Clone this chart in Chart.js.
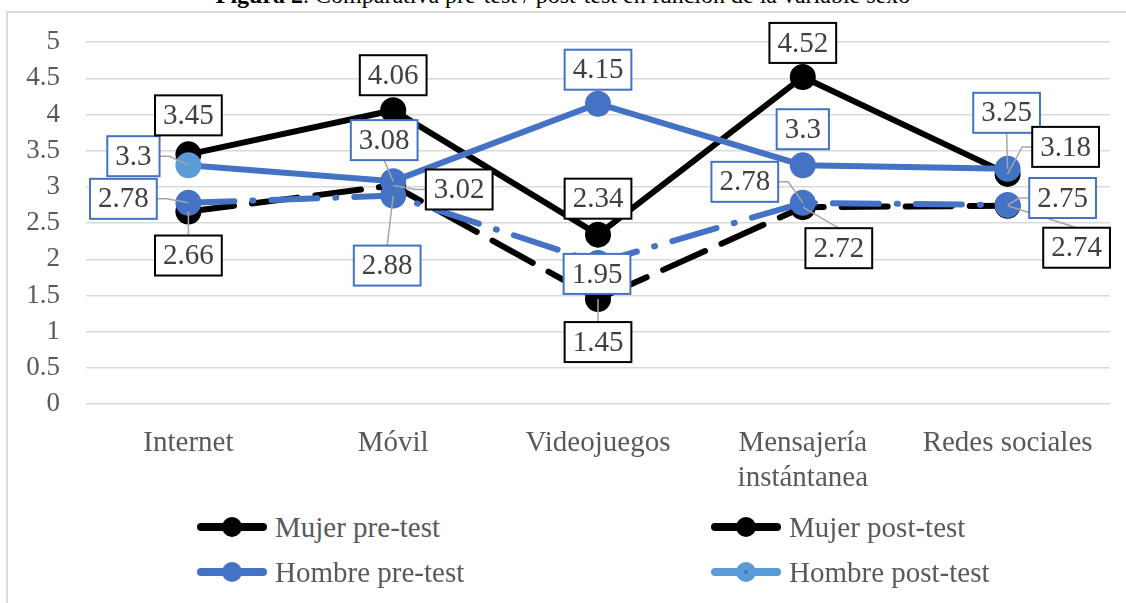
<!DOCTYPE html>
<html lang="es">

<head>
    <meta charset="UTF-8">
    <title>Figura 2</title>
    <script src="https://cdn.jsdelivr.net/npm/chart.js@4.4.0/dist/chart.umd.min.js"></script>
    <style>
        body {
            margin: 0;
            background: #fff;
            font-family: "Liberation Serif", serif;
            color: #595959;
        }

        .page {
            position: relative;
            width: 1126px;
            height: 603px;
            overflow: hidden;
        }

        .title {
            position: absolute;
            top: -17px;
            left: 0;
            width: 1126px;
            text-align: center;
            font-size: 24px;
            line-height: 24px;
            color: #000;
        }

        .frame {
            position: absolute;
            left: 6px;
            top: 11px;
            width: 1130px;
            height: 620px;
            border: 1px solid #d9d9d9;
            border-width: 2px 0 0 2px;
        }

        .wrap {
            position: absolute;
            left: 0;
            top: 0;
            width: 1126px;
            height: 500px;
        }

        #legend {
            position: absolute;
            left: 195px;
            top: 510px;
            display: grid;
            grid-template-columns: 514px 320px;
            row-gap: 11px;
            font-size: 29px;
        }

        #legend div {
            display: flex;
            align-items: center;
            height: 34px;
            white-space: nowrap;
        }

        #legend canvas {
            margin-right: 6px;
        }
    </style>
</head>

<body>
    <div class="page">
        <div class="frame"></div>
        <div class="title"><b>Figura 2</b>. Comparativa pre-test / post-test en función de la variable sexo</div>
        <div class="wrap"><canvas id="myChart"></canvas></div>
        <div id="legend"></div>
    </div>
    <script>
        // datos
        var categorias = ['Internet', 'Móvil', 'Videojuegos', ['Mensajería', 'instántanea'], 'Redes sociales']
        var mujerPre = [2.66, 3.02, 1.45, 2.72, 2.74]
        var mujerPost = [3.45, 4.06, 2.34, 4.52, 3.18]
        var hombrePre = [2.78, 2.88, 1.95, 2.78, 2.75]
        var hombrePost = [3.3, 3.08, 4.15, 3.3, 3.25]
        var yTicks = [0, 0.5, 1, 1.5, 2, 2.5, 3, 3.5, 4, 4.5, 5]

        // desplazamiento de las etiquetas (px) y si llevan linea guia
        var offMujerPre = [[0, 44], [66, 4], [0, 43], [36, 41], [69, 42]]
        var offMujerPost = [[0, -39], [0, -35], [0, -36], [0, -34], [58, -27]]
        var offHombrePre = [[-65, -4], [-6, 70], [-1, 11], [-58, -21], [55, -7]]
        var offHombrePost = [[-55, -9], [-9, -41], [0, -34], [0, -36], [-1, -56]]
        var guiaMujerPre = [1, 1, 1, 1, 1]
        var guiaMujerPost = [0, 0, 0, 0, 1]
        var guiaHombrePre = [1, 1, 0, 1, 1]
        var guiaHombrePost = [1, 1, 0, 0, 1]

        var negro = '#000000'
        var azul = '#4472C4'
        var azulClaro = '#5B9BD5'
        var gris = '#595959'

        var etiquetas = {
            id: 'etiquetas',
            afterDatasetsDraw: function (chart) {
                var ctx = chart.ctx
                ctx.save()
                ctx.font = '29px "Liberation Serif"'
                ctx.textAlign = 'center'
                ctx.textBaseline = 'middle'
                var cajas = []
                chart.data.datasets.forEach(function (ds, i) {
                    var meta = chart.getDatasetMeta(i)
                    ds.data.forEach(function (v, j) {
                        var p = meta.data[j]
                        var txt = String(v)
                        var w = ctx.measureText(txt).width + 16
                        var h = 40
                        var cx = p.x + ds.offsets[j][0]
                        var cy = p.y + ds.offsets[j][1]
                        cajas.push({ x: p.x, y: p.y, cx: cx, cy: cy, w: w, h: h, txt: txt, col: ds.boxColor, guia: ds.guias[j] })
                    })
                })
                // lineas guia
                ctx.strokeStyle = '#a6a6a6'
                ctx.lineWidth = 1.5
                cajas.forEach(function (c) {
                    if (!c.guia) return
                    var dx = c.x - c.cx, dy = c.y - c.cy
                    var ax, ay
                    if (Math.abs(dx) / c.w > Math.abs(dy) / c.h) {
                        ax = c.cx + Math.sign(dx) * c.w / 2
                        ay = c.cy
                        ctx.beginPath()
                        ctx.moveTo(ax, ay)
                        ctx.lineTo(ax + Math.sign(dx) * 10, ay)
                        ctx.lineTo(c.x, c.y)
                        ctx.stroke()
                    } else {
                        ax = c.cx
                        ay = c.cy + Math.sign(dy) * c.h / 2
                        ctx.beginPath()
                        ctx.moveTo(ax, ay)
                        ctx.lineTo(c.x, c.y)
                        ctx.stroke()
                    }
                })
                cajas.forEach(function (c) {
                    ctx.fillStyle = '#fff'
                    ctx.fillRect(c.cx - c.w / 2, c.cy - c.h / 2, c.w, c.h)
                    ctx.strokeStyle = c.col
                    ctx.lineWidth = 2
                    ctx.strokeRect(c.cx - c.w / 2, c.cy - c.h / 2, c.w, c.h)
                    ctx.fillStyle = '#404040'
                    ctx.fillText(c.txt, c.cx, c.cy + 1)
                })
                ctx.restore()
            }
        }

        var fuente = { family: '"Liberation Serif"', size: 29 }

        new Chart('myChart', {
            type: 'line',
            data: {
                labels: categorias,
                datasets: [{
                    label: 'Hombre post-test',
                    data: hombrePost,
                    borderColor: azul,
                    backgroundColor: azul,
                    pointBackgroundColor: [azulClaro, azul, azul, azul, azul],
                    pointBorderColor: [azulClaro, azul, azul, azul, azul],
                    borderWidth: 6,
                    pointRadius: 10,
                    boxColor: azul,
                    offsets: offHombrePost,
                    guias: guiaHombrePost,
                    order: 2
                }, {
                    label: 'Hombre pre-test',
                    data: hombrePre,
                    borderColor: azul,
                    backgroundColor: azul,
                    borderWidth: 6,
                    borderDash: [46, 18, 1, 18],
                    borderCapStyle: 'round',
                    pointRadius: 10,
                    boxColor: azul,
                    offsets: offHombrePre,
                    guias: guiaHombrePre,
                    order: 1
                }, {
                    label: 'Mujer post-test',
                    data: mujerPost,
                    borderColor: negro,
                    backgroundColor: negro,
                    borderWidth: 6,
                    pointRadius: 10,
                    boxColor: negro,
                    offsets: offMujerPost,
                    guias: guiaMujerPost,
                    order: 4
                }, {
                    label: 'Mujer pre-test',
                    data: mujerPre,
                    borderColor: negro,
                    backgroundColor: negro,
                    borderWidth: 6,
                    borderDash: [46, 18],
                    borderCapStyle: 'round',
                    pointRadius: 10,
                    boxColor: negro,
                    offsets: offMujerPre,
                    guias: guiaMujerPre,
                    order: 3
                }]
            },
            options: {
                responsive: true,
                maintainAspectRatio: false,
                animation: false,
                layout: { padding: { top: 40, right: 15, left: 0, bottom: 0 } },
                plugins: {
                    legend: { display: false },
                    tooltip: { enabled: false }
                },
                scales: {
                    x: {
                        offset: true,
                        grid: { display: false },
                        border: { display: false },
                        ticks: { color: gris, font: fuente, padding: 14, maxRotation: 0, autoSkip: false },
                        afterFit: function (s) { s.height = 96 }
                    },
                    y: {
                        min: 0,
                        max: 5,
                        afterBuildTicks: function (s) { s.ticks = yTicks.map(function (v) { return { value: v } }) },
                        grid: { color: '#d9d9d9', lineWidth: 1.5, drawTicks: false },
                        border: { display: false },
                        ticks: {
                            color: gris,
                            font: { family: '"Liberation Serif"', size: 27 },
                            padding: 26,
                            callback: function (v) { return String(v) }
                        },
                        afterFit: function (s) { s.width = 86 }
                    }
                }
            },
            plugins: [etiquetas]
        })

        // leyenda con linea y marcador
        var leyenda = [
            ['Mujer pre-test', negro, negro],
            ['Mujer post-test', negro, negro],
            ['Hombre pre-test', azul, azul],
            ['Hombre post-test', azulClaro, azul]
        ]
        var cont = document.getElementById('legend')
        leyenda.forEach(function (it) {
            var d = document.createElement('div')
            var c = document.createElement('canvas')
            c.width = 74
            c.height = 30
            var g = c.getContext('2d')
            g.strokeStyle = it[1]
            g.lineWidth = 8
            g.lineCap = 'round'
            g.beginPath()
            g.moveTo(6, 15)
            g.lineTo(68, 15)
            g.stroke()
            g.fillStyle = it[1]
            g.beginPath()
            g.arc(37, 15, 10, 0, Math.PI * 2)
            g.fill()
            if (it[2] !== it[1]) {
                g.fillStyle = it[2]
                g.beginPath()
                g.arc(37, 15, 2, 0, Math.PI * 2)
                g.fill()
            }
            d.appendChild(c)
            var s = document.createElement('span')
            s.textContent = it[0]
            d.appendChild(s)
            cont.appendChild(d)
        })
    </script>
</body>

</html>
